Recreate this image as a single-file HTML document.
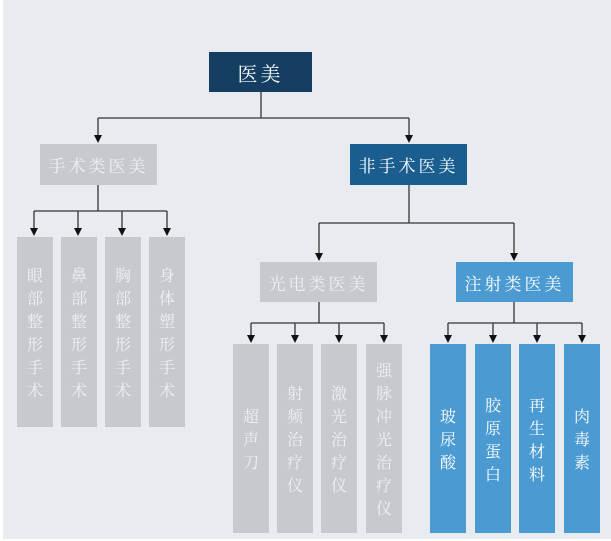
<!DOCTYPE html>
<html><head><meta charset="utf-8"><style>
body{margin:0;width:611px;height:541px;background:#fff;overflow:hidden}
#bg{position:absolute;left:3px;top:0;width:608px;height:539px;background:#e8ecf0}
.b{position:absolute;color:#fff;font-family:"Noto Serif CJK SC","Liberation Serif",serif;display:flex;align-items:center;justify-content:center;text-align:center}
.h{font-size:17px;letter-spacing:3px}
.v{font-size:16px;line-height:23px;width:36px}
.g{background:#c6cacf;color:#eef0f2}
.d{background:#143f62}
.m{background:#1a5e8f}
.l{background:#4b9bd2}
</style></head><body>
<div id="bg"></div>
<svg width="611" height="541" style="position:absolute;left:0;top:0">
<g stroke="#333" stroke-width="1.3" fill="none">
<path d="M261,92V118M98,118H409M98,118V136M409,118V136"/>
<path d="M98,185V211M34,211H167M34,211V229M78,211V229M122,211V229M167,211V229"/>
<path d="M409,185V223M319,223H514M319,223V254M514,223V254"/>
<path d="M319,302V323M251,323H384M251,323V336M295,323V336M339,323V336M384,323V336"/>
<path d="M514,302V323M448,323H582M448,323V336M493,323V336M537,323V336M582,323V336"/>
</g>
<g fill="#111">
<path d="M94,135h8l-4,8z"/><path d="M405,135h8l-4,8z"/>
<path d="M30,228h8l-4,8z"/><path d="M74,228h8l-4,8z"/><path d="M118,228h8l-4,8z"/><path d="M163,228h8l-4,8z"/>
<path d="M315,253h8l-4,8z"/><path d="M510,253h8l-4,8z"/>
<path d="M247,335h8l-4,8z"/><path d="M291,335h8l-4,8z"/><path d="M335,335h8l-4,8z"/><path d="M380,335h8l-4,8z"/>
<path d="M444,335h8l-4,8z"/><path d="M489,335h8l-4,8z"/><path d="M533,335h8l-4,8z"/><path d="M578,335h8l-4,8z"/>
</g></svg>
<div class="b h d" style="left:209px;top:52px;width:103px;height:40px;font-size:20px">医美</div>
<div class="b h g" style="left:40px;top:144px;width:117px;height:41px">手术类医美</div>
<div class="b h m" style="left:350px;top:144px;width:117px;height:41px">非手术医美</div>
<div class="b h g" style="left:260px;top:262px;width:117px;height:40px">光电类医美</div>
<div class="b h l" style="left:456px;top:262px;width:117px;height:40px">注射类医美</div>
<div class="b v g" style="left:17px;top:237px;height:190px">眼<br>部<br>整<br>形<br>手<br>术</div>
<div class="b v g" style="left:61px;top:237px;height:190px">鼻<br>部<br>整<br>形<br>手<br>术</div>
<div class="b v g" style="left:105px;top:237px;height:190px">胸<br>部<br>整<br>形<br>手<br>术</div>
<div class="b v g" style="left:149px;top:237px;height:190px">身<br>体<br>塑<br>形<br>手<br>术</div>
<div class="b v g" style="left:233px;top:344px;height:189px">超<br>声<br>刀</div>
<div class="b v g" style="left:277px;top:344px;height:189px">射<br>频<br>治<br>疗<br>仪</div>
<div class="b v g" style="left:321px;top:344px;height:189px">激<br>光<br>治<br>疗<br>仪</div>
<div class="b v g" style="left:366px;top:344px;height:189px">强<br>脉<br>冲<br>光<br>治<br>疗<br>仪</div>
<div class="b v l" style="left:430px;top:344px;height:189px">玻<br>尿<br>酸</div>
<div class="b v l" style="left:475px;top:344px;height:189px">胶<br>原<br>蛋<br>白</div>
<div class="b v l" style="left:519px;top:344px;height:189px">再<br>生<br>材<br>料</div>
<div class="b v l" style="left:564px;top:344px;height:189px">肉<br>毒<br>素</div>
</body></html>
